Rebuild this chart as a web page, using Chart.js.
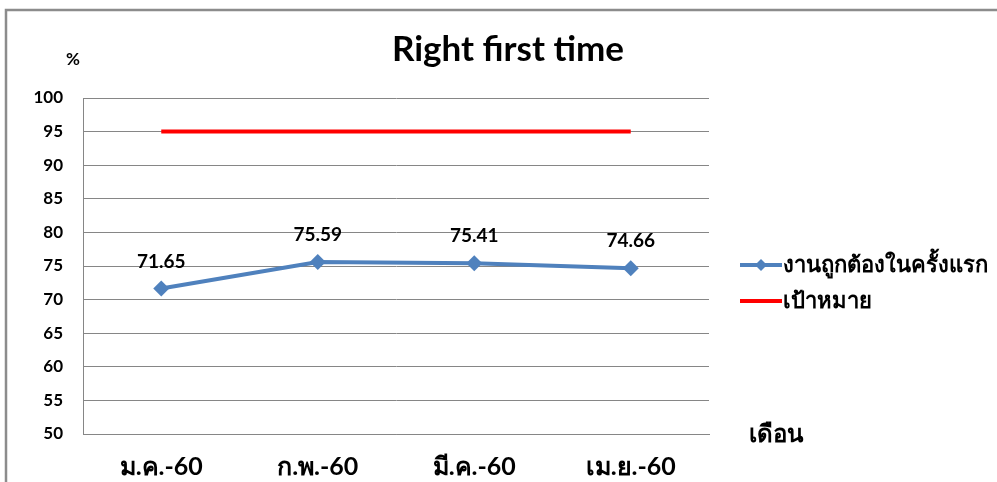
<!DOCTYPE html>
<html>
<head>
<meta charset="utf-8">
<script src="https://cdn.jsdelivr.net/npm/chart.js@4.4.1/dist/chart.umd.min.js"></script>
<style>
  html, body { margin: 0; padding: 0; background: #fff; }
  #wrap { width: 997px; height: 482px; position: relative; }
</style>
</head>
<body>
<div id="wrap"><canvas id="chart" width="997" height="482"></canvas></div>
<script>
const months = ['ม.ค.-60', 'ก.พ.-60', 'มี.ค.-60', 'เม.ย.-60'];
const rightFirstTime = [71.65, 75.59, 75.41, 74.66];
const target = [95, 95, 95, 95];
const seriesNames = ['งานถูกต้องในครั้งแรก', 'เป้าหมาย'];
const yTicks = [50, 55, 60, 65, 70, 75, 80, 85, 90, 95, 100];

const FONT = 'Lato, "Liberation Sans", sans-serif';

// frame, title, axis captions, legend and value labels
const extras = {
    id: 'extras',
    beforeDraw(chart) {
        const ctx = chart.ctx;
        ctx.save();
        ctx.strokeStyle = '#8c8c8c';
        ctx.lineWidth = 2.5;
        ctx.beginPath();
        ctx.moveTo(6, 482);
        ctx.lineTo(6, 10);
        ctx.lineTo(997, 10);
        ctx.stroke();
        ctx.restore();
    },
    afterDatasetsDraw(chart) {
        const ctx = chart.ctx;
        ctx.save();
        ctx.fillStyle = '#000';
        ctx.textAlign = 'center';
        ctx.textBaseline = 'middle';

        ctx.font = 'bold 35px ' + FONT;
        ctx.fillText('Right first time', 508, 50);

        ctx.font = 'bold 17px ' + FONT;
        ctx.fillText('%', 73, 60);

        ctx.font = 'bold 24px ' + FONT;
        ctx.fillText('เดือน', 776, 434);

        // value labels
        ctx.font = 'bold 19px ' + FONT;
        const meta = chart.getDatasetMeta(0);
        meta.data.forEach((pt, i) => {
            ctx.fillText(rightFirstTime[i].toFixed(2), pt.x, pt.y - 27);
        });

        // legend
        ctx.textAlign = 'left';
        ctx.font = 'bold 22px ' + FONT;
        const lx = 740, ly1 = 265, ly2 = 301;
        ctx.lineWidth = 4;
        ctx.strokeStyle = '#4F81BD';
        ctx.beginPath(); ctx.moveTo(lx, ly1); ctx.lineTo(lx + 42, ly1); ctx.stroke();
        ctx.fillStyle = '#4F81BD';
        ctx.beginPath();
        ctx.moveTo(lx + 21, ly1 - 6); ctx.lineTo(lx + 27, ly1);
        ctx.lineTo(lx + 21, ly1 + 6); ctx.lineTo(lx + 15, ly1);
        ctx.closePath(); ctx.fill();
        ctx.strokeStyle = '#FF0000';
        ctx.beginPath(); ctx.moveTo(lx, ly2); ctx.lineTo(lx + 42, ly2); ctx.stroke();
        ctx.fillStyle = '#000';
        ctx.fillText(seriesNames[0], lx + 43, ly1);
        ctx.fillText(seriesNames[1], lx + 43, ly2);
        ctx.restore();
    }
};

new Chart(document.getElementById('chart'), {
    type: 'line',
    data: {
        labels: months,
        datasets: [{
            label: seriesNames[0],
            data: rightFirstTime,
            borderColor: '#4F81BD',
            backgroundColor: '#4F81BD',
            borderWidth: 4,
            pointStyle: 'rectRot',
            pointRadius: 8,
            pointBorderWidth: 0,
            tension: 0
        }, {
            label: seriesNames[1],
            data: target,
            borderColor: '#FF0000',
            backgroundColor: '#FF0000',
            borderWidth: 4,
            pointRadius: 0,
            tension: 0
        }]
    },
    options: {
        responsive: false,
        animation: false,
        layout: { padding: { left: 0, right: 288, top: 98, bottom: 0 } },
        plugins: {
            legend: { display: false },
            title: { display: false },
            tooltip: { enabled: false }
        },
        scales: {
            x: {
                offset: true,
                afterFit(scale) { scale.height = 48; },
                grid: { drawOnChartArea: false, drawTicks: false },
                border: { display: true, color: '#868686', width: 1 },
                ticks: {
                    padding: 18,
                    color: '#000',
                    font: { family: FONT, size: 25, weight: 'bold' }
                }
            },
            y: {
                min: 50,
                max: 100,
                afterFit(scale) { scale.width = 83; },
                afterBuildTicks(scale) { scale.ticks = yTicks.map(v => ({ value: v })); },
                grid: { color: '#868686', lineWidth: 1, drawTicks: false },
                border: { display: true, color: '#868686', width: 1 },
                ticks: {
                    padding: 20,
                    color: '#000',
                    font: { family: FONT, size: 17, weight: 'bold' }
                }
            }
        }
    },
    plugins: [extras]
});
</script>
</body>
</html>
